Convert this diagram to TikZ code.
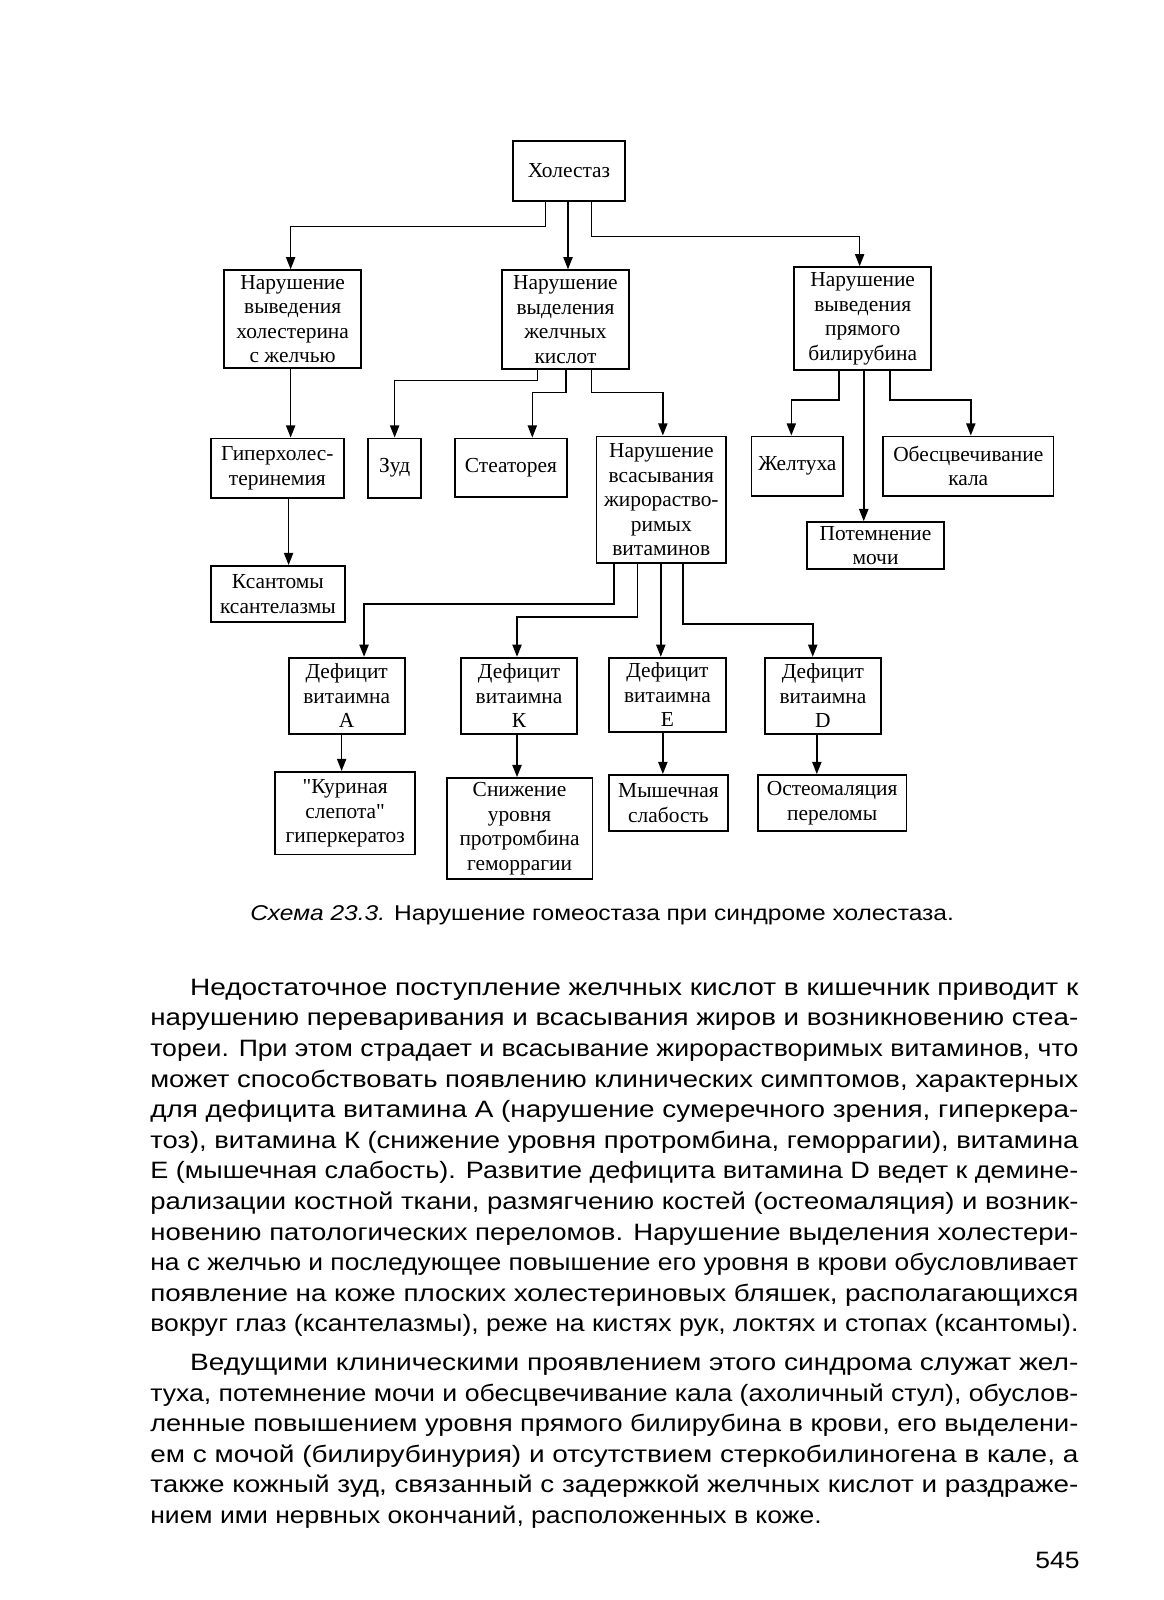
\documentclass[tikz,border=0pt]{standalone}
\usepackage{fontspec}
\usepackage{graphicx}
\setmainfont{Liberation Serif}
\newfontfamily\qf[Ligatures=TeXOff]{Liberation Serif}
\newfontfamily\bodyfont[FakeStretch=1.12]{Liberation Sans}
\usetikzlibrary{arrows.meta}
\newcommand\bx[6]{\node[box,minimum width={(#4-#2)*0.5pt},minimum height={(#5-#3)*0.5pt}] (#1) at ({(#2+#4)/2},{(#3+#5)/2}) {#6};}
\newcommand\bl[5]{\node[body] (#1) at (#2,#3) {\resizebox{#4}{\height}{#5}};}
\newcommand\sq{{\qf"}}
\begin{document}
\begin{tikzpicture}[x=0.5pt,y=-0.5pt,
  box/.style={draw,line width=0.9pt,inner sep=0pt,align=center,font=\fontsize{10.5}{12}\selectfont},
  arr/.style={line width=0.8pt,-{Triangle[length=6pt,width=4.5pt]}},
  body/.style={anchor=base west,inner sep=0pt,font=\bodyfont\fontsize{11.6}{15}\selectfont}]
\useasboundingbox (0,0) rectangle (1141,1569);
% boxes
\bx{h}{503}{138}{613}{197}{Холестаз}
\bx{b1}{220}{265}{354}{361}{Нарушение\\выведения\\холестерина\\с желчью}
\bx{b2}{492}{265}{617}{362}{Нарушение\\выделения\\желчных\\кислот}
\bx{b3}{779}{262}{913}{363}{Нарушение\\выведения\\прямого\\билирубина}
\bx{c1}{207}{430}{337}{488}{Гиперхолес-\\теринемия}
\bx{c2}{207}{555}{338}{610}{Ксантомы\\ксантелазмы}
\bx{z}{361}{430}{413}{488}{Зуд}
\bx{s}{446}{430}{556}{487}{Стеаторея}
\bx{v}{585}{428}{712}{552}{Нарушение\\всасывания\\жирораство-\\римых\\витаминов}
\bx{j}{737}{428}{827}{486}{Желтуха}
\bx{o}{866}{428}{1033}{486}{Обесцвечивание\\кала}
\bx{p}{791}{512}{926}{558}{Потемнение\\мочи}
\bx{dA}{283}{645}{397}{720}{Дефицит\\витаимна\\А}
\bx{dK}{452}{645}{566}{720}{Дефицит\\витаимна\\К}
\bx{dE}{597}{645}{712}{718}{Дефицит\\витаимна\\Е}
\bx{dD}{750}{645}{864}{720}{Дефицит\\витаимна\\D}
\bx{eA}{270}{757}{407}{838}{\sq Куриная\\слепота\sq\\гиперкератоз}
\bx{eK}{438}{763}{581}{862}{Снижение\\уровня\\протромбина\\геморрагии}
\bx{eE}{597}{760}{714}{815}{Мышечная\\слабость}
\bx{eD}{743}{760}{889}{815}{Остеомаляция\\переломы}
% connectors
\draw[arr] (h.south -| 535,0) -- (535,222) -- (285,222) -- (b1.north -| 285,0);
\draw[arr] (h.south -| 557,0) -- (b2.north -| 557,0);
\draw[arr] (h.south -| 580,0) -- (580,232) -- (843,232) -- (b3.north -| 843,0);
\draw[arr] (b1.south -| 285,0) -- (c1.north -| 285,0);
\draw[arr] (c1.south -| 283,0) -- (c2.north -| 283,0);
\draw[arr] (b2.south -| 527,0) -- (527,373) -- (387,373) -- (z.north -| 387,0);
\draw[arr] (b2.south -| 555,0) -- (555,385) -- (522,385) -- (s.north -| 522,0);
\draw[arr] (b2.south -| 580,0) -- (580,385) -- (650,385) -- (v.north -| 650,0);
\draw[arr] (b3.south -| 823,0) -- (823,392) -- (776,392) -- (j.north -| 776,0);
\draw[arr] (b3.south -| 847,0) -- (p.north -| 847,0);
\draw[arr] (b3.south -| 873,0) -- (873,392) -- (952,392) -- (o.north -| 952,0);
\draw[arr] (v.south -| 602,0) -- (602,592) -- (357,592) -- (dA.north -| 357,0);
\draw[arr] (v.south -| 625,0) -- (625,605) -- (507,605) -- (dK.north -| 507,0);
\draw[arr] (v.south -| 648,0) -- (dE.north -| 648,0);
\draw[arr] (v.south -| 670,0) -- (670,612) -- (797,612) -- (dD.north -| 797,0);
\draw[arr] (dA.south -| 335,0) -- (eA.north -| 335,0);
\draw[arr] (dK.south -| 507,0) -- (eK.north -| 507,0);
\draw[arr] (dE.south -| 650,0) -- (eE.north -| 650,0);
\draw[arr] (dD.south -| 801,0) -- (eD.north -| 801,0);
% caption
\node[anchor=base west,inner sep=0pt,font=\bodyfont\fontsize{10.5}{12}\selectfont] (cap) at (245,903) {\resizebox{345pt}{\height}{\textit{Схема 23.3.} Нарушение гомеостаза при синдроме холестаза.}};
% body text
\bl{l1}{186}{976}{435.5pt}{Недостаточное поступление желчных кислот в кишечник приводит к}
\bl{l2}{147}{1006}{455pt}{нарушению переваривания и всасывания жиров и возникновению стеа-}
\bl{l3}{147}{1036}{455pt}{тореи. При этом страдает и всасывание жирорастворимых витаминов, что}
\bl{l4}{147}{1066}{455pt}{может способствовать появлению клинических симптомов, характерных}
\bl{l5}{147}{1096}{455pt}{для дефицита витамина А (нарушение сумеречного зрения, гиперкера-}
\bl{l6}{147}{1126}{455pt}{тоз), витамина К (снижение уровня протромбина, геморрагии), витамина}
\bl{l7}{147}{1156}{455pt}{Е (мышечная слабость). Развитие дефицита витамина D ведет к демине-}
\bl{l8}{147}{1186}{455pt}{рализации костной ткани, размягчению костей (остеомаляция) и возник-}
\bl{l9}{147}{1216}{455pt}{новению патологических переломов. Нарушение выделения холестери-}
\bl{l10}{147}{1246}{455pt}{на с желчью и последующее повышение его уровня в крови обусловливает}
\bl{l11}{147}{1276}{455pt}{появление на коже плоских холестериновых бляшек, располагающихся}
\bl{l12}{147}{1306}{455pt}{вокруг глаз (ксантелазмы), реже на кистях рук, локтях и стопах (ксантомы).}
\bl{l13}{186}{1344}{435.5pt}{Ведущими клиническими проявлением этого синдрома служат жел-}
\bl{l14}{147}{1374}{455pt}{туха, потемнение мочи и обесцвечивание кала (ахоличный стул), обуслов-}
\bl{l15}{147}{1404}{455pt}{ленные повышением уровня прямого билирубина в крови, его выделени-}
\bl{l16}{147}{1434}{455pt}{ем с мочой (билирубинурия) и отсутствием стеркобилиногена в кале, а}
\bl{l17}{147}{1464}{455pt}{также кожный зуд, связанный с задержкой желчных кислот и раздраже-}
\node[body] (l18) at (147,1494) {нием ими нервных окончаний, расположенных в коже.};
\node[anchor=base east,inner sep=0pt,font=\bodyfont\fontsize{11.6}{15}\selectfont] (pg) at (1059,1538) {545};
\end{tikzpicture}
\end{document}
